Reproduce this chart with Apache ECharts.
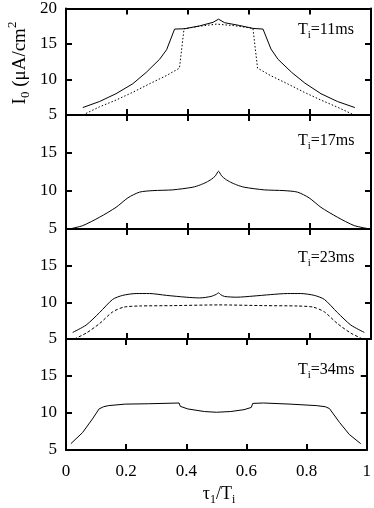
<!DOCTYPE html>
<html>
<head>
<meta charset="utf-8">
<script src="https://cdn.jsdelivr.net/npm/echarts@6/dist/echarts.min.js"></script>
<style>
  html, body { margin: 0; padding: 0; background: #fff; }
  #main { width: 374px; height: 508px; }
</style>
</head>
<body>
<div id="main"></div>
<script>
// panel labels (T_i in ms)
var periods = ["11", "17", "23", "34"];
var xTicks = [0, 0.2, 0.4, 0.6, 0.8, 1];
var yTicks = [5, 10, 15, 20];

// Ti = 11ms
var ti11Solid = [[0.055,6.05],[0.11,6.9],[0.164,8.0],[0.219,9.4],[0.263,11.0],[0.307,12.85],[0.33,14.2],[0.356,17.1],[0.389,17.15],[0.438,17.55],[0.482,18.05],[0.5,18.5],[0.52,18.0],[0.57,17.6],[0.613,17.2],[0.646,17.1],[0.672,14.3],[0.695,12.85],[0.74,11.0],[0.783,9.5],[0.836,8.0],[0.89,6.9],[0.947,6.05]];
var ti11Dotted = [[0.055,5.0],[0.11,6.15],[0.164,7.1],[0.219,8.2],[0.274,9.4],[0.329,10.55],[0.372,11.6],[0.387,17.15],[0.438,17.5],[0.493,17.8],[0.548,17.6],[0.613,17.2],[0.628,11.6],[0.671,10.55],[0.726,9.4],[0.781,8.2],[0.836,7.1],[0.89,6.1],[0.945,5.0]];
// Ti = 17ms
var ti17Solid = [[0.011,5.0],[0.055,5.45],[0.11,6.55],[0.164,7.85],[0.203,9.1],[0.241,9.85],[0.285,10.05],[0.35,10.15],[0.416,10.5],[0.44,10.8],[0.46,11.15],[0.477,11.55],[0.49,12.0],[0.5,12.6],[0.51,12.0],[0.523,11.55],[0.54,11.15],[0.56,10.8],[0.584,10.5],[0.65,10.15],[0.715,10.05],[0.759,9.85],[0.797,9.1],[0.836,7.85],[0.89,6.55],[0.945,5.45],[0.997,5.0]];
// Ti = 23ms
var ti23Solid = [[0.022,5.9],[0.066,6.9],[0.11,8.6],[0.153,10.4],[0.186,10.95],[0.23,11.2],[0.274,11.2],[0.329,10.95],[0.394,10.7],[0.438,10.6],[0.475,10.8],[0.493,11.1],[0.5,11.3],[0.507,11.05],[0.52,10.8],[0.56,10.7],[0.613,10.85],[0.67,11.05],[0.726,11.2],[0.77,11.2],[0.814,10.95],[0.847,10.4],[0.89,8.6],[0.934,6.9],[0.978,5.9]];
var ti23Dashed = [[0.027,5.0],[0.066,5.8],[0.11,7.1],[0.153,8.7],[0.19,9.35],[0.241,9.5],[0.35,9.55],[0.5,9.65],[0.65,9.55],[0.759,9.5],[0.81,9.35],[0.847,8.7],[0.89,7.1],[0.934,5.8],[0.973,5.0]];
// Ti = 34ms
var ti34Solid = [[0.016,5.85],[0.055,7.35],[0.088,9.2],[0.11,10.55],[0.125,10.85],[0.142,11.0],[0.197,11.2],[0.274,11.25],[0.376,11.35],[0.38,10.9],[0.405,10.55],[0.46,10.2],[0.5,10.1],[0.548,10.2],[0.592,10.45],[0.616,10.75],[0.621,11.3],[0.657,11.35],[0.745,11.2],[0.832,11.0],[0.862,10.85],[0.876,10.6],[0.909,8.75],[0.942,7.1],[0.98,5.85]];

var FONT = "Liberation Serif";
var tops = [6, 115, 229, 339];
var heights = [109, 114, 110, 111];

var chart = echarts.init(document.getElementById("main"));

var grids = [], xAxes = [], yAxes = [], series = [];
var lineW = 2;

for (var i = 0; i < 4; i++) {
  grids.push({ left: 66, right: 3, top: tops[i], height: heights[i] });
  var last = i === 3;
  // bottom and top x axes
  xAxes.push({
    gridIndex: i, type: "value", min: 0, max: 1, interval: 0.2, position: "bottom",
    axisLine: { show: true, onZero: false, lineStyle: { color: "#000", width: lineW } },
    axisTick: { show: true, inside: true, length: 6, lineStyle: { color: "#000", width: 2 } },
    axisLabel: { show: last, margin: 13, color: "#000", fontFamily: FONT, fontSize: 17,
      formatter: function (v) { return xTicks.indexOf(v) >= 0 ? String(v) : ""; } },
    splitLine: { show: false }
  });
  xAxes.push({
    gridIndex: i, type: "value", min: 0, max: 1, interval: 0.2, position: "top",
    axisLine: { show: true, onZero: false, lineStyle: { color: "#000", width: lineW } },
    axisTick: { show: true, inside: true, length: 6, lineStyle: { color: "#000", width: 2 } },
    axisLabel: { show: false }, splitLine: { show: false }
  });
  yAxes.push({
    gridIndex: i, type: "value", min: 5, max: 20, interval: 5, position: "left",
    axisLine: { show: true, onZero: false, lineStyle: { color: "#000", width: lineW } },
    axisTick: { show: true, inside: true, length: 6, lineStyle: { color: "#000", width: 2 } },
    axisLabel: { show: true, margin: 9, color: "#000", fontFamily: FONT, fontSize: 17,
      showMaxLabel: i === 0,
      formatter: function (v) { return yTicks.indexOf(v) >= 0 ? String(v) : ""; } },
    splitLine: { show: false }
  });
  yAxes.push({
    gridIndex: i, type: "value", min: 5, max: 20, interval: 5, position: "right",
    axisLine: { show: true, onZero: false, lineStyle: { color: "#000", width: lineW } },
    axisTick: { show: true, inside: true, length: 6, lineStyle: { color: "#000", width: 2 } },
    axisLabel: { show: false }, splitLine: { show: false }
  });
}

function line(idx, data, dash, smooth) {
  return {
    type: "line", xAxisIndex: idx * 2, yAxisIndex: idx * 2, data: data,
    showSymbol: false, symbol: "none", silent: true, animation: false,
    smooth: smooth || false,
    lineStyle: { color: "#000", width: 1, type: dash || "solid" }
  };
}

series.push(line(0, ti11Solid));
series.push(line(0, ti11Dotted, [1.5, 2]));
series.push(line(1, ti17Solid, null, 0.25));
series.push(line(2, ti23Solid, null, 0.25));
series.push(line(2, ti23Dashed, [3, 2], 0.25));
series.push(line(3, ti34Solid));

var labelRich = {
  m: { fontFamily: FONT, fontSize: 16, color: "#000", verticalAlign: "top", lineHeight: 16 },
  s: { fontFamily: FONT, fontSize: 11, color: "#000", verticalAlign: "top", lineHeight: 11, padding: [8, 0, 0, 0] }
};
var labelY = [22, 133, 250, 362];

var graphics = [];
for (var j = 0; j < 4; j++) {
  graphics.push({
    type: "text", left: 298, top: labelY[j], silent: true,
    style: { text: "{m|T}{s|i}{m|=" + periods[j] + "ms}", rich: labelRich }
  });
}

// y title, rotated
graphics.push({
  type: "text", x: 16, y: 63, rotation: Math.PI / 2, silent: true,
  style: {
    x: 0, y: 0, align: "center", verticalAlign: "middle",
    text: "{m|I}{s|0}{m| (μA/cm}{p|2}",
    rich: {
      m: { fontFamily: FONT, fontSize: 19, color: "#000", verticalAlign: "top", lineHeight: 19, padding: [4, 0, 0, 0] },
      s: { fontFamily: FONT, fontSize: 13, color: "#000", verticalAlign: "top", lineHeight: 13, padding: [13, 0, 0, 0] },
      p: { fontFamily: FONT, fontSize: 13, color: "#000", verticalAlign: "top", lineHeight: 13 }
    }
  }
});

// x title
graphics.push({
  type: "text", x: 219, y: 494, silent: true,
  style: {
    x: 0, y: 0, align: "center", verticalAlign: "middle",
    text: "{m|τ}{s|1}{m|/T}{s|i}",
    rich: {
      m: { fontFamily: FONT, fontSize: 18, color: "#000", verticalAlign: "top", lineHeight: 18 },
      s: { fontFamily: FONT, fontSize: 12, color: "#000", verticalAlign: "top", lineHeight: 12, padding: [9, 0, 0, 0] }
    }
  }
});

var option = {
  animation: false,
  backgroundColor: "#fff",
  grid: grids,
  xAxis: xAxes,
  yAxis: yAxes,
  series: series,
  graphic: graphics
};

option && chart.setOption(option);
</script>
</body>
</html>
